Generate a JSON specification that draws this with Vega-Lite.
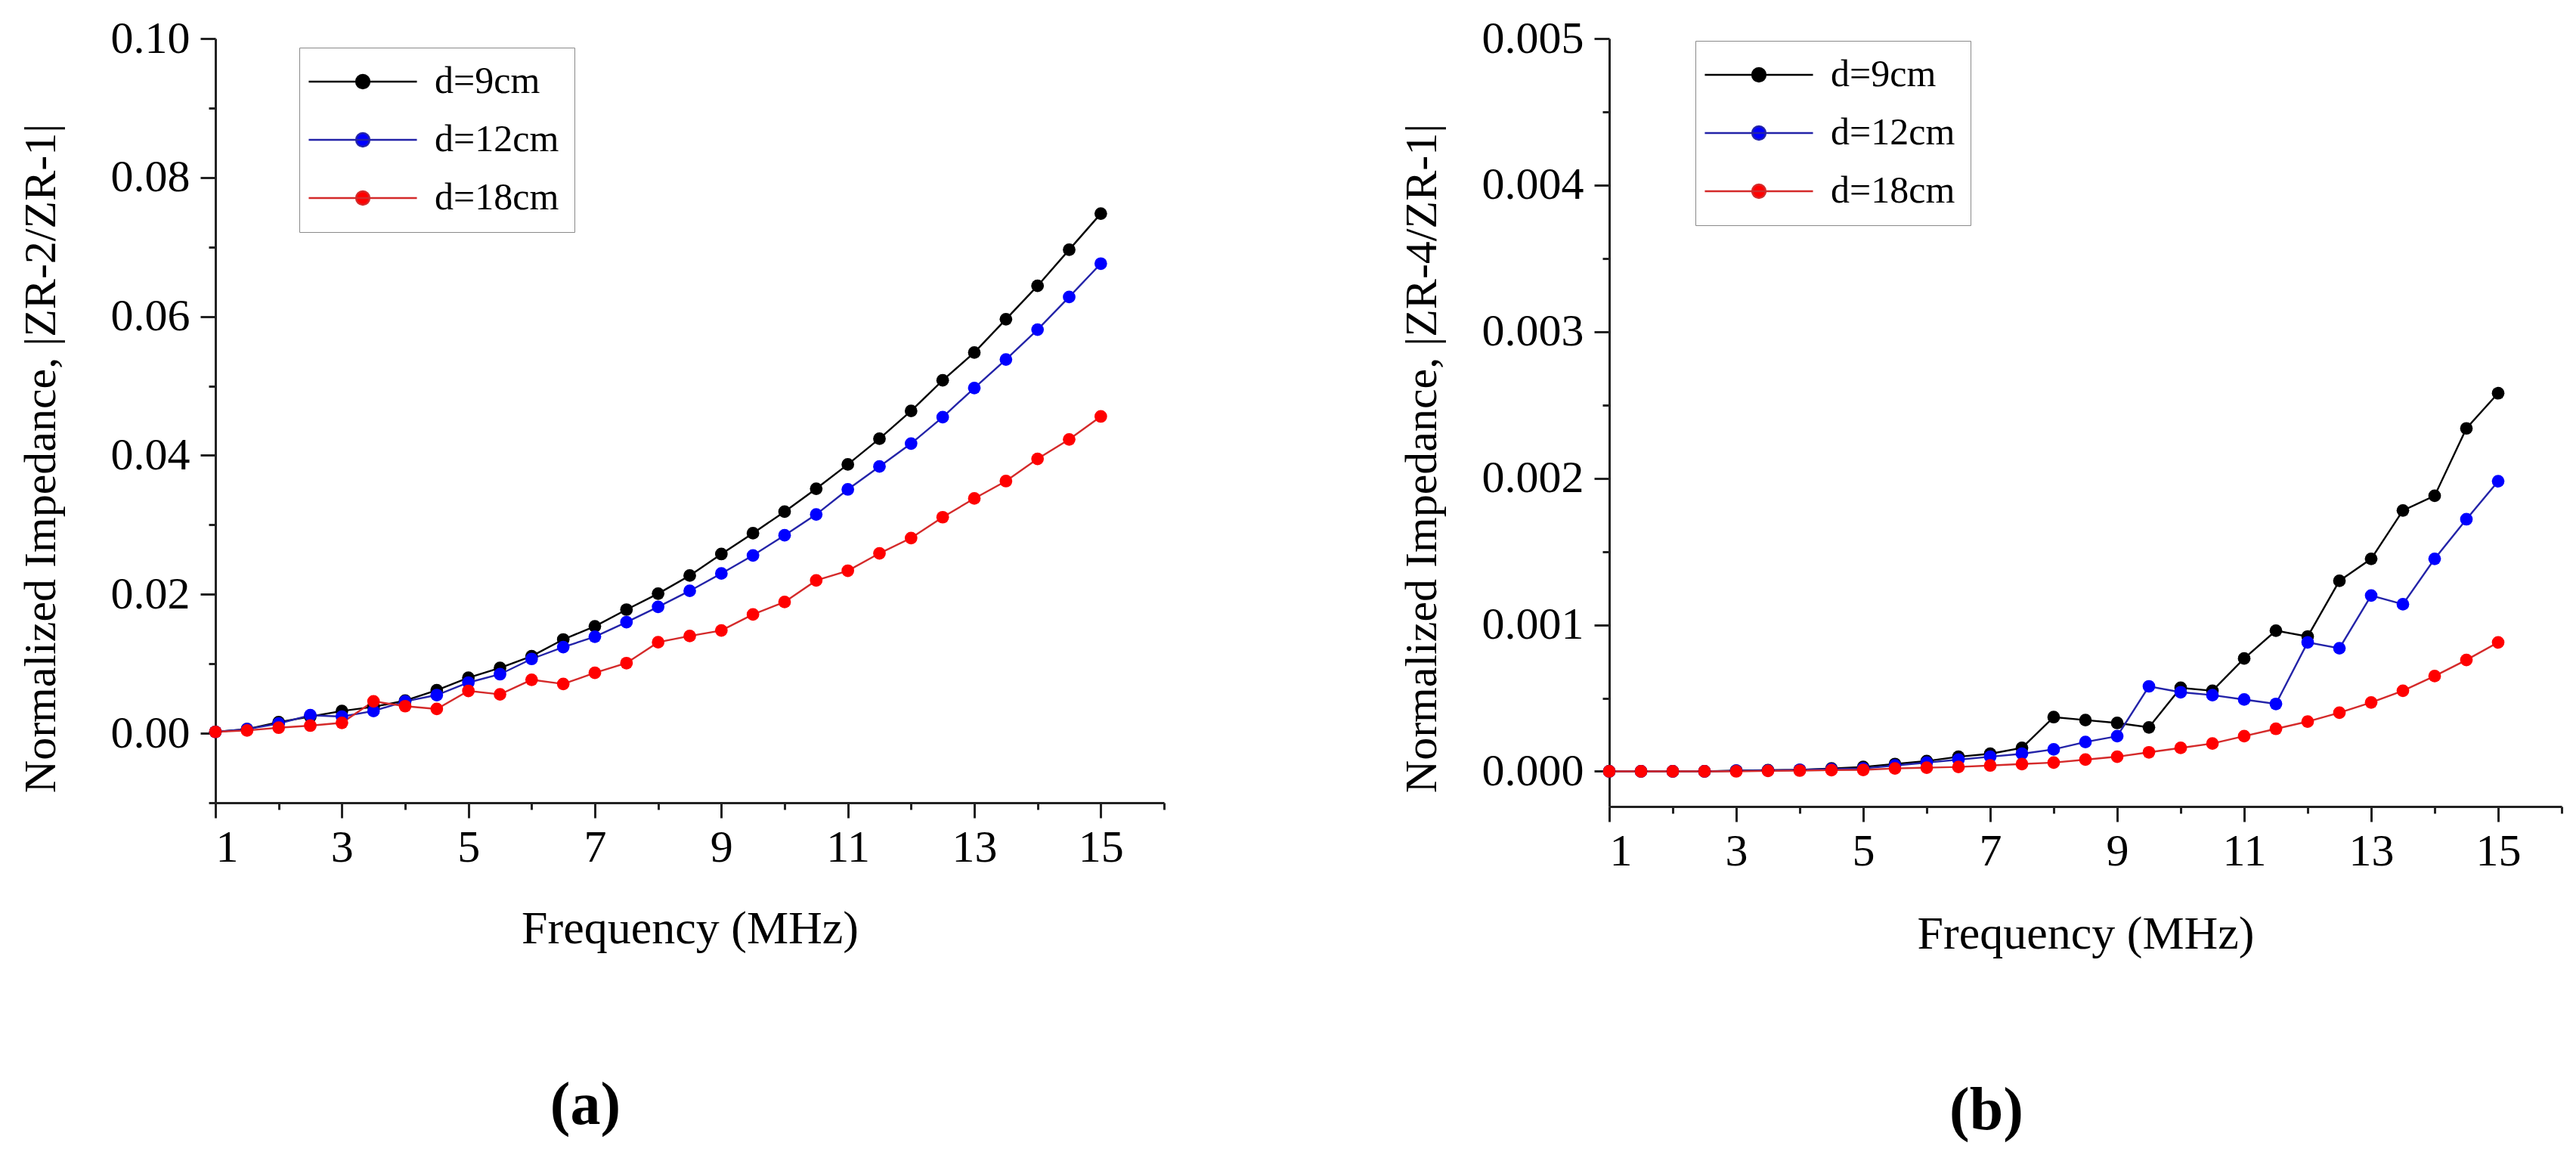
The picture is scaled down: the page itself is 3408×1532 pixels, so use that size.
{
  "$schema": "https://vega.github.io/schema/vega-lite/v6.json",
  "padding": {"left": 23, "top": 21, "right": 10, "bottom": 10},
  "bounds": "flush",
  "spacing": 589,
  "background": "white",
  "config": {
    "view": {"stroke": null},
    "font": "Liberation Serif",
    "axis": {
      "labelFont": "Liberation Serif",
      "titleFont": "Liberation Serif",
      "labelColor": "black",
      "titleColor": "black",
      "titleFontWeight": "normal",
      "domainColor": "#222",
      "tickColor": "#222",
      "domainWidth": 3,
      "tickWidth": 3,
      "grid": false
    }
  },
  "datasets": {
    "imp": [
      {"f": 1, "d": "d=9cm", "a": 0.0002, "b": 0},
      {"f": 1.5, "d": "d=9cm", "a": 0.0006, "b": 0},
      {"f": 2, "d": "d=9cm", "a": 0.0016, "b": 0},
      {"f": 2.5, "d": "d=9cm", "a": 0.0024, "b": 0},
      {"f": 3, "d": "d=9cm", "a": 0.0032, "b": 0.000005},
      {"f": 3.5, "d": "d=9cm", "a": 0.0038, "b": 0.000008},
      {"f": 4, "d": "d=9cm", "a": 0.0047, "b": 0.00001},
      {"f": 4.5, "d": "d=9cm", "a": 0.0062, "b": 0.00002},
      {"f": 5, "d": "d=9cm", "a": 0.0080, "b": 0.00003},
      {"f": 5.5, "d": "d=9cm", "a": 0.0094, "b": 0.00005},
      {"f": 6, "d": "d=9cm", "a": 0.0111, "b": 0.00007},
      {"f": 6.5, "d": "d=9cm", "a": 0.0135, "b": 0.0001},
      {"f": 7, "d": "d=9cm", "a": 0.0154, "b": 0.00012},
      {"f": 7.5, "d": "d=9cm", "a": 0.0178, "b": 0.00016},
      {"f": 8, "d": "d=9cm", "a": 0.0201, "b": 0.00037},
      {"f": 8.5, "d": "d=9cm", "a": 0.0227, "b": 0.00035},
      {"f": 9, "d": "d=9cm", "a": 0.0258, "b": 0.00033},
      {"f": 9.5, "d": "d=9cm", "a": 0.0288, "b": 0.0003},
      {"f": 10, "d": "d=9cm", "a": 0.0319, "b": 0.00057},
      {"f": 10.5, "d": "d=9cm", "a": 0.0352, "b": 0.00055},
      {"f": 11, "d": "d=9cm", "a": 0.0387, "b": 0.00077},
      {"f": 11.5, "d": "d=9cm", "a": 0.0424, "b": 0.00096},
      {"f": 12, "d": "d=9cm", "a": 0.0464, "b": 0.00092},
      {"f": 12.5, "d": "d=9cm", "a": 0.0508, "b": 0.0013},
      {"f": 13, "d": "d=9cm", "a": 0.0548, "b": 0.00145},
      {"f": 13.5, "d": "d=9cm", "a": 0.0596, "b": 0.00178},
      {"f": 14, "d": "d=9cm", "a": 0.0644, "b": 0.00188},
      {"f": 14.5, "d": "d=9cm", "a": 0.0696, "b": 0.00234},
      {"f": 15, "d": "d=9cm", "a": 0.0748, "b": 0.00258},

      {"f": 1, "d": "d=12cm", "a": 0.0002, "b": 0},
      {"f": 1.5, "d": "d=12cm", "a": 0.0006, "b": 0},
      {"f": 2, "d": "d=12cm", "a": 0.0014, "b": 0},
      {"f": 2.5, "d": "d=12cm", "a": 0.0026, "b": 0},
      {"f": 3, "d": "d=12cm", "a": 0.0024, "b": 0.000004},
      {"f": 3.5, "d": "d=12cm", "a": 0.0032, "b": 0.000006},
      {"f": 4, "d": "d=12cm", "a": 0.0046, "b": 0.00001},
      {"f": 4.5, "d": "d=12cm", "a": 0.0055, "b": 0.000015},
      {"f": 5, "d": "d=12cm", "a": 0.0073, "b": 0.00002},
      {"f": 5.5, "d": "d=12cm", "a": 0.0085, "b": 0.00004},
      {"f": 6, "d": "d=12cm", "a": 0.0107, "b": 0.00006},
      {"f": 6.5, "d": "d=12cm", "a": 0.0124, "b": 0.00008},
      {"f": 7, "d": "d=12cm", "a": 0.0139, "b": 0.0001},
      {"f": 7.5, "d": "d=12cm", "a": 0.0160, "b": 0.00012},
      {"f": 8, "d": "d=12cm", "a": 0.0182, "b": 0.00015},
      {"f": 8.5, "d": "d=12cm", "a": 0.0205, "b": 0.0002},
      {"f": 9, "d": "d=12cm", "a": 0.0230, "b": 0.00024},
      {"f": 9.5, "d": "d=12cm", "a": 0.0256, "b": 0.00058},
      {"f": 10, "d": "d=12cm", "a": 0.0285, "b": 0.00054},
      {"f": 10.5, "d": "d=12cm", "a": 0.0315, "b": 0.00052},
      {"f": 11, "d": "d=12cm", "a": 0.0351, "b": 0.00049},
      {"f": 11.5, "d": "d=12cm", "a": 0.0384, "b": 0.00046},
      {"f": 12, "d": "d=12cm", "a": 0.0417, "b": 0.00088},
      {"f": 12.5, "d": "d=12cm", "a": 0.0455, "b": 0.00084},
      {"f": 13, "d": "d=12cm", "a": 0.0497, "b": 0.0012},
      {"f": 13.5, "d": "d=12cm", "a": 0.0538, "b": 0.00114},
      {"f": 14, "d": "d=12cm", "a": 0.0581, "b": 0.00145},
      {"f": 14.5, "d": "d=12cm", "a": 0.0628, "b": 0.00172},
      {"f": 15, "d": "d=12cm", "a": 0.0676, "b": 0.00198},

      {"f": 1, "d": "d=18cm", "a": 0.0002, "b": 0},
      {"f": 1.5, "d": "d=18cm", "a": 0.0004, "b": 0},
      {"f": 2, "d": "d=18cm", "a": 0.0008, "b": 0},
      {"f": 2.5, "d": "d=18cm", "a": 0.0011, "b": 0},
      {"f": 3, "d": "d=18cm", "a": 0.0015, "b": 0},
      {"f": 3.5, "d": "d=18cm", "a": 0.0046, "b": 0.000003},
      {"f": 4, "d": "d=18cm", "a": 0.0039, "b": 0.000005},
      {"f": 4.5, "d": "d=18cm", "a": 0.0035, "b": 0.000008},
      {"f": 5, "d": "d=18cm", "a": 0.0061, "b": 0.00001},
      {"f": 5.5, "d": "d=18cm", "a": 0.0056, "b": 0.00002},
      {"f": 6, "d": "d=18cm", "a": 0.0077, "b": 0.000025},
      {"f": 6.5, "d": "d=18cm", "a": 0.0071, "b": 0.00003},
      {"f": 7, "d": "d=18cm", "a": 0.0087, "b": 0.00004},
      {"f": 7.5, "d": "d=18cm", "a": 0.0101, "b": 0.00005},
      {"f": 8, "d": "d=18cm", "a": 0.0131, "b": 0.00006},
      {"f": 8.5, "d": "d=18cm", "a": 0.0140, "b": 0.00008},
      {"f": 9, "d": "d=18cm", "a": 0.0148, "b": 0.0001},
      {"f": 9.5, "d": "d=18cm", "a": 0.0171, "b": 0.00013},
      {"f": 10, "d": "d=18cm", "a": 0.0189, "b": 0.00016},
      {"f": 10.5, "d": "d=18cm", "a": 0.0220, "b": 0.00019},
      {"f": 11, "d": "d=18cm", "a": 0.0234, "b": 0.00024},
      {"f": 11.5, "d": "d=18cm", "a": 0.0259, "b": 0.00029},
      {"f": 12, "d": "d=18cm", "a": 0.0281, "b": 0.00034},
      {"f": 12.5, "d": "d=18cm", "a": 0.0311, "b": 0.0004},
      {"f": 13, "d": "d=18cm", "a": 0.0338, "b": 0.00047},
      {"f": 13.5, "d": "d=18cm", "a": 0.0363, "b": 0.00055},
      {"f": 14, "d": "d=18cm", "a": 0.0395, "b": 0.00065},
      {"f": 14.5, "d": "d=18cm", "a": 0.0423, "b": 0.00076},
      {"f": 15, "d": "d=18cm", "a": 0.0456, "b": 0.00088}
    ]
  },
  "resolve": {"legend": {"color": "independent"}, "scale": {"y": "independent"}},
  "hconcat": [
    {
      "width": 1255,
      "height": 1011,
      "data": {"name": "imp"},
      "title": {"text": "(a)", "orient": "bottom", "anchor": "middle", "dx": -138, "offset": 165, "font": "Liberation Serif", "fontSize": 80, "fontWeight": "bold", "color": "black"},
      "resolve": {"axis": {"x": "independent", "y": "independent"}},
      "layer": [
        {
          "mark": {"type": "line", "strokeWidth": 2.4},
          "encoding": {
            "x": {"field": "f", "type": "quantitative",
              "scale": {"domain": [1, 16], "nice": false, "zero": false},
              "axis": {"orient": "bottom", "values": [1, 3, 5, 7, 9, 11, 13, 15], "format": "d", "tickSize": 20, "labelFont": "Liberation Serif", "labelFontSize": 60, "labelPadding": 10, "labelBaseline": "top", "title": "Frequency (MHz)", "titleFont": "Liberation Serif", "titleFontSize": 62, "titleBaseline": "alphabetic", "titleY": 185}},
            "y": {"field": "a", "type": "quantitative",
              "scale": {"domain": [-0.01, 0.1], "nice": false, "zero": false},
              "axis": {"orient": "left", "values": [0, 0.02, 0.04, 0.06, 0.08, 0.1], "format": ".2f", "tickSize": 20, "labelFont": "Liberation Serif", "labelFontSize": 60, "labelPadding": 14, "title": "Normalized Impedance, |ZR-2/ZR-1|", "titleFont": "Liberation Serif", "titleFontSize": 60, "titleBaseline": "alphabetic", "titleAlign": "center", "titleAngle": -90, "titleX": -213, "titleY": 555}},
            "color": {"field": "d", "type": "nominal",
              "scale": {"domain": ["d=9cm", "d=12cm", "d=18cm"], "range": ["#000000", "#2323a8", "#d42a2a"]},
              "legend": {"orient": "none", "legendX": 111, "legendY": 12, "title": null, "padding": 20, "rowPadding": 27,
                "symbolType": "M-4,0L4,0M-0.5,0A0.5,0.5,0,1,1,0.5,0A0.5,0.5,0,1,1,-0.5,0Z",
                "symbolSize": 1280, "symbolOffset": 39, "labelOffset": 70, "symbolStrokeWidth": 2.4,
                "labelFont": "Liberation Serif", "labelFontSize": 50, "labelColor": "black", "labelLimit": 500,
                "strokeColor": "#8a8a8a", "fillColor": "white",
                "encode": {"symbols": {"update": {"fill": {"scale": "fill", "field": "value"}, "stroke": {"scale": "color", "field": "value"}}}}}}
          }
        },
        {
          "mark": {"type": "point", "filled": true, "opacity": 1, "size": 280, "strokeWidth": 0},
          "encoding": {
            "x": {"field": "f", "type": "quantitative",
              "axis": {"orient": "bottom", "values": [2, 4, 6, 8, 10, 12, 14, 16], "tickSize": 9, "labels": false, "domain": false, "title": null}},
            "y": {"field": "a", "type": "quantitative",
              "axis": {"orient": "left", "values": [-0.01, 0.01, 0.03, 0.05, 0.07, 0.09], "tickSize": 9, "labels": false, "domain": false, "title": null}},
            "fill": {"field": "d", "type": "nominal", "legend": null,
              "scale": {"domain": ["d=9cm", "d=12cm", "d=18cm"], "range": ["#000000", "#0000ff", "#ff0000"]}}
          }
        }
      ]
    },
    {
      "width": 1260,
      "height": 1016,
      "data": {"name": "imp"},
      "title": {"text": "(b)", "orient": "bottom", "anchor": "middle", "dx": -131, "offset": 165, "font": "Liberation Serif", "fontSize": 80, "fontWeight": "bold", "color": "black"},
      "resolve": {"axis": {"x": "independent", "y": "independent"}},
      "layer": [
        {
          "mark": {"type": "line", "strokeWidth": 2.4},
          "encoding": {
            "x": {"field": "f", "type": "quantitative",
              "scale": {"domain": [1, 16], "nice": false, "zero": false},
              "axis": {"orient": "bottom", "values": [1, 3, 5, 7, 9, 11, 13, 15], "format": "d", "tickSize": 20, "labelFont": "Liberation Serif", "labelFontSize": 60, "labelPadding": 10, "labelBaseline": "top", "title": "Frequency (MHz)", "titleFont": "Liberation Serif", "titleFontSize": 62, "titleBaseline": "alphabetic", "titleY": 187}},
            "y": {"field": "b", "type": "quantitative",
              "scale": {"domain": [-0.00024, 0.005], "nice": false, "zero": false},
              "axis": {"orient": "left", "values": [0, 0.001, 0.002, 0.003, 0.004, 0.005], "format": ".3f", "tickSize": 20, "labelFont": "Liberation Serif", "labelFontSize": 60, "labelPadding": 14, "title": "Normalized Impedance, |ZR-4/ZR-1|", "titleFont": "Liberation Serif", "titleFontSize": 60, "titleBaseline": "alphabetic", "titleAlign": "center", "titleAngle": -90, "titleX": -230, "titleY": 555}},
            "color": {"field": "d", "type": "nominal",
              "scale": {"domain": ["d=9cm", "d=12cm", "d=18cm"], "range": ["#000000", "#2323a8", "#d42a2a"]},
              "legend": {"orient": "none", "legendX": 114, "legendY": 3, "title": null, "padding": 20, "rowPadding": 27,
                "symbolType": "M-4,0L4,0M-0.5,0A0.5,0.5,0,1,1,0.5,0A0.5,0.5,0,1,1,-0.5,0Z",
                "symbolSize": 1280, "symbolOffset": 39, "labelOffset": 70, "symbolStrokeWidth": 2.4,
                "labelFont": "Liberation Serif", "labelFontSize": 50, "labelColor": "black", "labelLimit": 500,
                "strokeColor": "#8a8a8a", "fillColor": "white",
                "encode": {"symbols": {"update": {"fill": {"scale": "fill", "field": "value"}, "stroke": {"scale": "color", "field": "value"}}}}}}
          }
        },
        {
          "mark": {"type": "point", "filled": true, "opacity": 1, "size": 280, "strokeWidth": 0},
          "encoding": {
            "x": {"field": "f", "type": "quantitative",
              "axis": {"orient": "bottom", "values": [2, 4, 6, 8, 10, 12, 14, 16], "tickSize": 9, "labels": false, "domain": false, "title": null}},
            "y": {"field": "b", "type": "quantitative",
              "axis": {"orient": "left", "values": [0.0005, 0.0015, 0.0025, 0.0035, 0.0045], "tickSize": 9, "labels": false, "domain": false, "title": null}},
            "fill": {"field": "d", "type": "nominal", "legend": null,
              "scale": {"domain": ["d=9cm", "d=12cm", "d=18cm"], "range": ["#000000", "#0000ff", "#ff0000"]}}
          }
        }
      ]
    }
  ]
}
